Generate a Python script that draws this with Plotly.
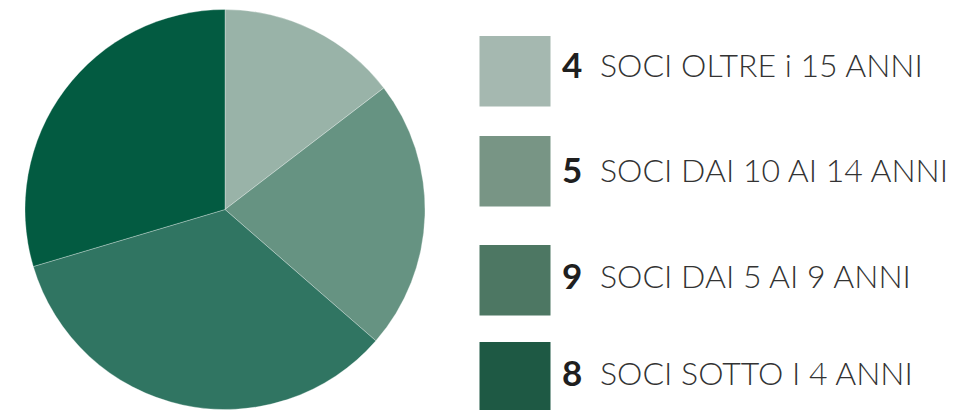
import plotly.graph_objects as go

# the page body has an 8px margin, so the figure is drawn 8px smaller
# and all positions below are screen pixels shifted by that offset
OFF = 8
W, H = 976 - OFF, 410 - OFF

counts = [4, 5, 9, 8]
labels = ["SOCI OLTRE i 15 ANNI", "SOCI DAI 10 AI 14 ANNI", "SOCI DAI 5 AI 9 ANNI", "SOCI SOTTO I 4 ANNI"]
# slice shares (%) as drawn in the original, not exactly proportional to counts
shares = [14.6, 21.8, 34.0, 29.6]
pie_colors = ["#99b3a8", "#669382", "#307562", "#035b41"]
legend_colors = ["#a5b8b0", "#789585", "#4d7763", "#1e5944"]

# legend rows (screen pixels from top): square top/bottom and text centre
sq_top = [36, 136, 245, 342]
sq_bot = [106.5, 206.5, 315.5, 412]
txt_mid = [64, 169, 275, 372]


def px(x):
    return (x - OFF) / W


def py(y):
    return 1 - (y - OFF) / H


fig = go.Figure(go.Pie(
    values=shares,
    labels=labels,
    customdata=counts,
    marker=dict(colors=pie_colors, line=dict(color="rgba(255,255,255,0.5)", width=0.6)),
    sort=False,
    direction="clockwise",
    rotation=0,
    textinfo="none",
    hovertemplate="%{customdata} %{label}<extra></extra>",
    showlegend=False,
    domain=dict(x=[px(25), px(425)], y=[max(0, py(410)), py(9)]),
))

shapes = []
annotations = []
for i in range(len(counts)):
    shapes.append(dict(type="rect", xref="paper", yref="paper",
                       x0=px(479.5), x1=px(550.5), y0=py(sq_bot[i]), y1=py(sq_top[i]),
                       fillcolor=legend_colors[i], line=dict(width=0)))
    annotations.append(dict(xref="paper", yref="paper", x=px(560), y=py(txt_mid[i]),
                            xanchor="left", yanchor="middle", showarrow=False,
                            text="<b>%d</b>" % counts[i],
                            font=dict(family="Lato", size=35, color="#1f1f1f")))
    annotations.append(dict(xref="paper", yref="paper", x=px(598), y=py(txt_mid[i]),
                            xanchor="left", yanchor="middle", showarrow=False,
                            text=labels[i],
                            font=dict(family="Lato", size=32, color="#333333", weight=300)))

fig.update_layout(
    width=W, height=H,
    margin=dict(l=0, r=0, t=0, b=0),
    paper_bgcolor="white",
    plot_bgcolor="white",
    shapes=shapes,
    annotations=annotations,
)

fig.write_html("out.html")
